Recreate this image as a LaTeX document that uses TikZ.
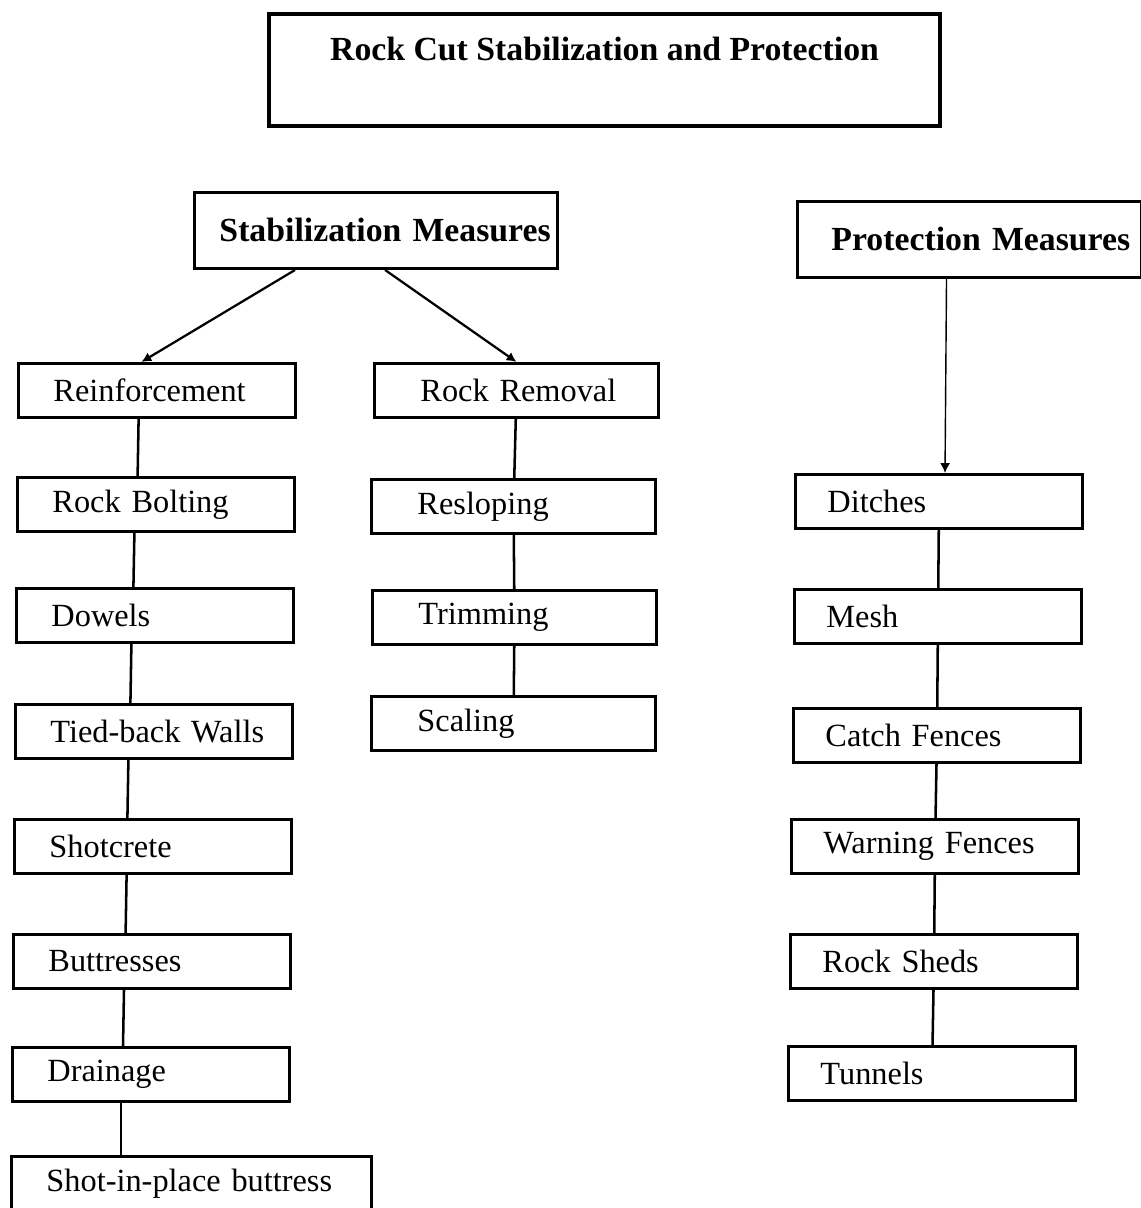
\documentclass[tikz,border=0pt]{standalone}
\usepackage{fontspec}
\setmainfont{Liberation Serif}
\usepackage{tikz}
\usetikzlibrary{arrows.meta}

\begin{document}
\begin{tikzpicture}[x=0.025cm, y=-0.025cm]
    \tikzset{head/.style={draw, line width=2.1pt, anchor=north west, minimum height=1.9cm,
                          font=\fontsize{24}{30}\selectfont\bfseries},
             cell/.style={draw, line width=2.1pt, anchor=north west, minimum height=1.35cm,
                          inner xsep=0pt, align=left, font=\fontsize{23}{27}\selectfont},
             lbox/.style={cell, text width=6.925cm, execute at begin node=\hspace*{0.875cm}},
             mbox/.style={cell, text width=7.1cm, execute at begin node=\hspace*{1.15cm}},
             pbox/.style={cell, text width=7.175cm, execute at begin node=\hspace*{0.8cm}},
             link/.style={line width=1.8pt},
             arr/.style={line width=1.6pt, -{Latex[length=7pt,width=7pt]}}}
    \useasboundingbox (0,0) rectangle (1141,1208);
    % title
    \node[head, line width=2.8pt, minimum width=16.775cm, minimum height=2.8cm, align=center]
        (title) at (267,12) {Rock Cut Stabilization and Protection\\\mbox{}};
    \node[head, inner xsep=0pt, text width=9.075cm, align=left,
          execute at begin node=\hspace*{0.625cm}] (stab) at (193,191) {Stabilization Measures};
    \node[head, inner xsep=0pt, text width=8.6cm, align=left,
          execute at begin node=\hspace*{0.85cm}] (prot) at (796,200) {Protection Measures};
    % stabilization - reinforcement
    \node[lbox] (rein) at (17,362) {Reinforcement};
    \node[lbox] (bolt) at (16,476) {Rock Bolting};
    \node[lbox] (dowel) at (15,587) {Dowels};
    \node[lbox] (tied) at (14,703) {Tied-back Walls};
    \node[lbox] (shot) at (13,818) {Shotcrete};
    \node[lbox] (butt) at (12,933) {Buttresses};
    \node[lbox] (drain) at (11,1046) {Drainage};
    \node[lbox, text width=9cm] (sipb) at (10,1155) {Shot-in-place buttress};
    % stabilization - rock removal
    \node[mbox] (remov) at (373,362) {Rock Removal};
    \node[mbox] (reslope) at (370,478) {Resloping};
    \node[mbox] (trim) at (371,589) {Trimming};
    \node[mbox] (scale) at (370,695) {Scaling};
    % protection
    \node[pbox] (ditch) at (794,473) {Ditches};
    \node[pbox] (mesh) at (793,588) {Mesh};
    \node[pbox] (catch) at (792,707) {Catch Fences};
    \node[pbox] (warn) at (790,818) {Warning Fences};
    \node[pbox] (shed) at (789,933) {Rock Sheds};
    \node[pbox] (tunnel) at (787,1045) {Tunnels};
    % arrows
    \draw[arr] ([xshift=2.55cm]stab.south west) -- ([xshift=-0.39cm]rein.north);
    \draw[arr] ([xshift=4.8cm]stab.south west) -- (remov.north);
    \draw[arr, line width=1pt] ([xshift=-0.575cm]prot.south) -- ([xshift=0.15cm]ditch.north);
    % links
    \draw[link] ([xshift=-0.46cm]rein.south) -- ([xshift=-0.46cm]bolt.north);
    \draw[link] ([xshift=-0.54cm]bolt.south) -- ([xshift=-0.54cm]dowel.north);
    \draw[link] ([xshift=-0.59cm]dowel.south) -- ([xshift=-0.59cm]tied.north);
    \draw[link] ([xshift=-0.64cm]tied.south) -- ([xshift=-0.64cm]shot.north);
    \draw[link] ([xshift=-0.66cm]shot.south) -- ([xshift=-0.66cm]butt.north);
    \draw[link] ([xshift=-0.7cm]butt.south) -- ([xshift=-0.7cm]drain.north);
    \draw[link] ([xshift=-0.75cm]drain.south) -- ([xshift=-0.75cm]drain.south |- sipb.north);
    \draw[link] (remov) -- (reslope);
    \draw[link] (reslope) -- (trim);
    \draw[link] (trim) -- (scale);
    \draw[link] (ditch) -- (mesh);
    \draw[link] (mesh) -- (catch);
    \draw[link] (catch) -- (warn);
    \draw[link] (warn) -- (shed);
    \draw[link] (shed) -- (tunnel);
\end{tikzpicture}
\end{document}
